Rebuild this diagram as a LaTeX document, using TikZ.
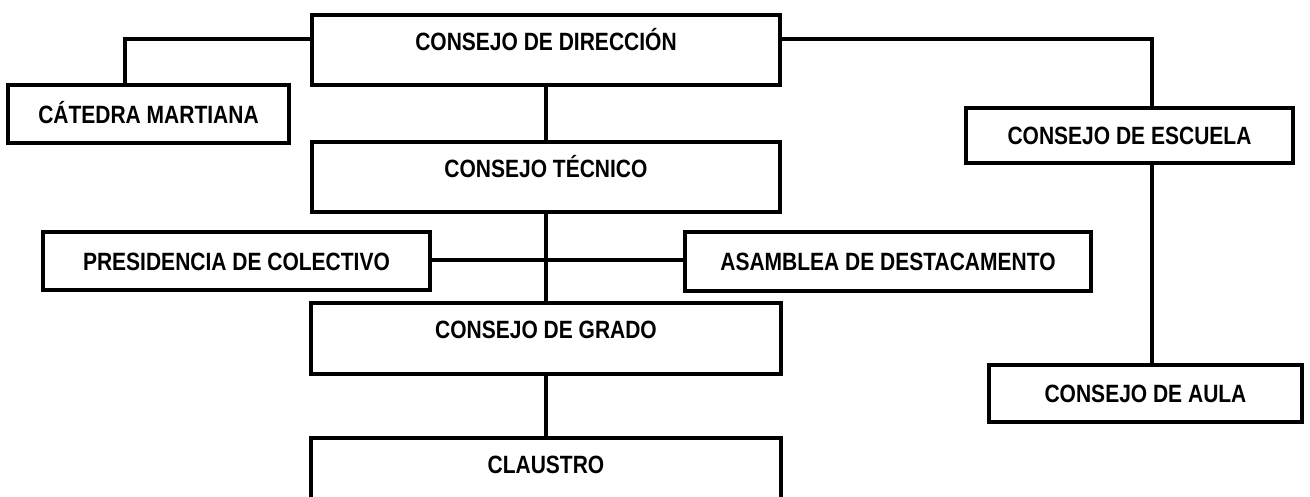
\documentclass[tikz,border=0pt]{standalone}
\usepackage{fontspec}
\setmainfont{Liberation Sans}[FakeStretch=0.84]
\begin{document}
\begin{tikzpicture}[x=1pt,y=-1pt,
  box/.style={draw, line width=4pt, inner sep=0pt, fill=white,
    font=\fontsize{25}{30}\selectfont\bfseries, text height=18pt, text depth=0pt},
  tallbox/.style={box, text depth=18pt},
  link/.style={line width=3.2pt}]
\useasboundingbox (0,0) rectangle (1310,496);
% nodes
\node[tallbox, minimum width=468pt, minimum height=70pt] (dir) at (546,50) {CONSEJO DE DIRECCIÓN};
\node[box, minimum width=281pt, minimum height=58pt] (cat) at (148.5,114) {CÁTEDRA MARTIANA};
\node[tallbox, minimum width=468pt, minimum height=70pt] (tec) at (546,177) {CONSEJO TÉCNICO};
\node[box, minimum width=327pt, minimum height=55pt] (esc) at (1129.5,135.5) {CONSEJO DE ESCUELA};
\node[box, minimum width=387pt, minimum height=58pt] (pre) at (236.5,261) {PRESIDENCIA DE COLECTIVO};
\node[box, minimum width=406pt, minimum height=59pt] (asa) at (888,261.5) {ASAMBLEA DE DESTACAMENTO};
\node[tallbox, minimum width=470pt, minimum height=71pt] (gra) at (546,338.5) {CONSEJO DE GRADO};
\node[box, minimum width=313pt, minimum height=57pt] (aula) at (1145.5,393.5) {CONSEJO DE AULA};
\node[tallbox, minimum width=470pt, minimum height=70pt] (cla) at (546,473) {CLAUSTRO};
% junction coordinates
\coordinate (jl) at (125,39);
\coordinate (jr) at (1152,39);
\coordinate (jm) at (546,260);
% connectors
\draw[link] (dir.west |- jl) -| (cat.north -| jl);
\draw[link] (dir.east |- jr) -| (esc.north -| jr);
\draw[link] (esc.south -| jr) -- (aula.north -| jr);
\draw[link] (dir.south) -- (tec.north);
\draw[link] (tec.south) -- (gra.north);
\draw[link] (gra.south) -- (cla.north);
\draw[link] (pre.east |- jm) -- (asa.west |- jm);
\end{tikzpicture}
\end{document}
